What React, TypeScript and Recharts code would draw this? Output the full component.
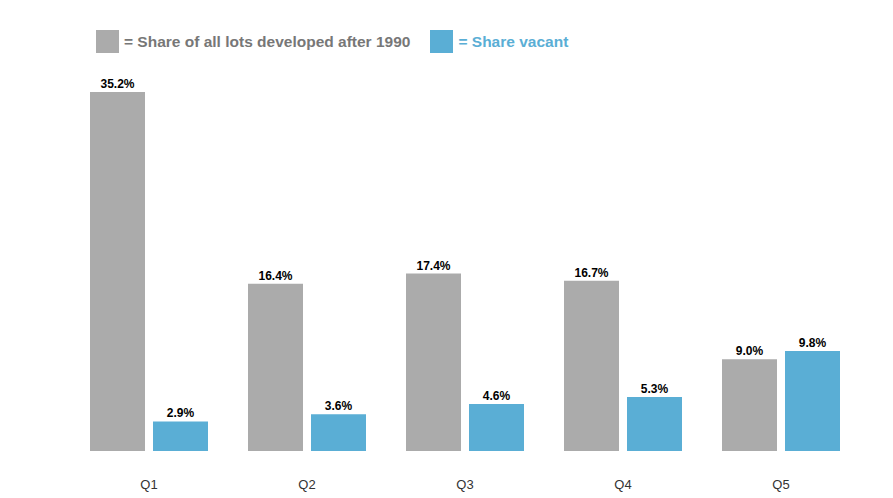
import { Bar, BarChart, LabelList, XAxis, YAxis } from "recharts";

const quintiles = ["Q1", "Q2", "Q3", "Q4", "Q5"];
const developedAfter1990 = [35.2, 16.4, 17.4, 16.7, 9.0];
const shareVacant = [2.9, 3.6, 4.6, 5.3, 9.8];

const GRAY = "#ababab";
const BLUE = "#5aaed5";

const data = quintiles.map((q, i) => ({
  q,
  developed: developedAfter1990[i],
  vacant: shareVacant[i],
}));

const fmt = (v: any) => `${Number(v).toFixed(1)}%`;

function TopLegend() {
  const item = (color: string, text: string, textColor: string) => (
    <div style={{ display: "flex", alignItems: "center", marginRight: 20 }}>
      <div style={{ width: 23, height: 23, background: color, marginRight: 5 }} />
      <span style={{ color: textColor, fontWeight: "bold", fontSize: 15.5 }}>{text}</span>
    </div>
  );
  return (
    <div
      style={{
        position: "absolute",
        left: 96,
        top: 30,
        display: "flex",
        fontFamily: "'Liberation Sans', Arial, sans-serif",
      }}
    >
      {item(GRAY, "= Share of all lots developed after 1990", "#777")}
      {item(BLUE, "= Share vacant", BLUE)}
    </div>
  );
}

export default function App() {
  return (
    <div style={{ position: "absolute", left: 0, top: 0, width: 893, height: 498, background: "#fff" }}>
      <BarChart
        width={893}
        height={498}
        data={data}
        margin={{ top: 43, right: 33, bottom: 0, left: 70 }}
        barGap={8}
        barSize={55}
        style={{ fontFamily: "'Liberation Sans', Arial, sans-serif" }}
      >
        <XAxis
          dataKey="q"
          axisLine={false}
          tickLine={false}
          height={47}
          tickMargin={23}
          tick={{ fill: "#333", fontSize: 13 }}
        />
        <YAxis hide domain={[0, 40]} />
        <Bar dataKey="developed" fill={GRAY} isAnimationActive={false}>
          <LabelList dataKey="developed" position="top" offset={4} formatter={fmt} style={{ fontSize: 12, fontWeight: "bold", fill: "#000" }} />
        </Bar>
        <Bar dataKey="vacant" fill={BLUE} isAnimationActive={false}>
          <LabelList dataKey="vacant" position="top" offset={4} formatter={fmt} style={{ fontSize: 12, fontWeight: "bold", fill: "#000" }} />
        </Bar>
      </BarChart>
      <TopLegend />
    </div>
  );
}
